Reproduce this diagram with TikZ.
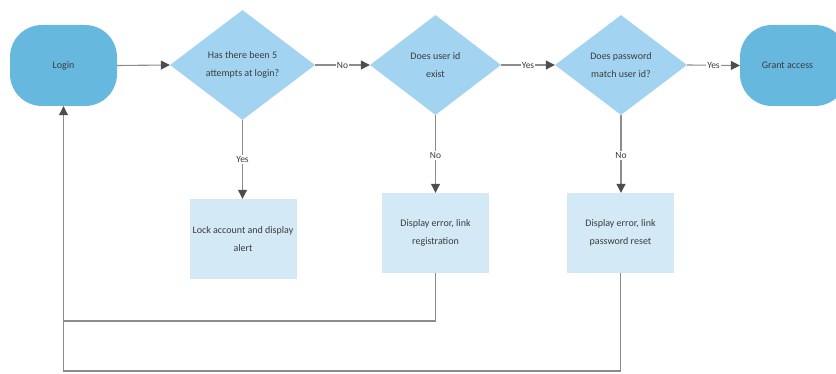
\documentclass[tikz,border=0pt]{standalone}
\usepackage{fontspec}
\setmainfont{Carlito}
\usetikzlibrary{shapes.geometric,arrows.meta}
\definecolor{termc}{HTML}{67B8DF}
\definecolor{diac}{HTML}{A2D4F1}
\definecolor{boxc}{HTML}{D3E9F6}
\definecolor{linec}{HTML}{8C8C8C}
\definecolor{arrc}{HTML}{4D4D4D}
\definecolor{txtc}{HTML}{3C3C3C}
\begin{document}
\begin{tikzpicture}[x=1pt,y=-1pt,
  every node/.style={font=\fontsize{10}{18}\selectfont,text=txtc},
  term/.style={rectangle,rounded corners=32pt,fill=termc,minimum width=107pt,minimum height=81pt,inner sep=0pt},
  dec/.style={diamond,fill=diac,inner sep=0pt,align=center},
  actbox/.style={rectangle,fill=boxc,minimum width=107pt,minimum height=80pt,inner sep=0pt,align=center},
  conn/.style={draw=linec,line width=1.1pt},
  arr/.style={conn,-{Triangle[length=9pt,width=9pt,color=arrc]}},
  lbl/.style={fill=white,inner sep=1pt,font=\fontsize{9.5}{10}\selectfont}]
\useasboundingbox (0,0) rectangle (836,374);
\begin{scope}
\clip (0,0) rectangle (836,374);
\node[term] (login) at (63.5,65.5) {Login};
\node[term] (grant) at (793.5,65.5) {\hspace*{-12pt}Grant access};
\end{scope}
\node[dec,minimum width=145pt,minimum height=110pt] (d1) at (242.5,65) {Has there been 5\\attempts at login?};
\node[dec,minimum width=131pt,minimum height=100pt] (d2) at (435.5,65) {Does user id\\exist};
\node[dec,minimum width=132pt,minimum height=100pt] (d3) at (621,65) {Does password\\match user id?};
\node[actbox] (lock) at (243,239) {Lock account and display\\alert};
\node[actbox] (e1) at (435.5,233) {Display error, link\\registration};
\node[actbox] (e2) at (620.5,233) {Display error, link\\password reset};
\coordinate (j1) at (63.5,321);
\coordinate (j2) at (63.5,371);
\draw[arr] (login.east) -- (d1.west);
\draw[arr] (d1.east) -- node[lbl] {No} (d2.west);
\draw[arr] (d2.east) -- node[lbl] {Yes} (d3.west);
\draw[arr] (d3.east) -- node[lbl] {Yes} (grant.west);
\draw[arr] (d1.south) -- node[lbl,pos=0.5] {Yes} (d1.south |- lock.north);
\draw[arr] (d2.south) -- node[lbl,pos=0.52] {No} (e1.north);
\draw[arr] (d3.south) -- node[lbl,pos=0.52] {No} (d3.south |- e2.north);
\draw[conn] (e1.south) |- (j1);
\draw[arr] (e2.south) |- (j2) -- (login.south);
\end{tikzpicture}
\end{document}
